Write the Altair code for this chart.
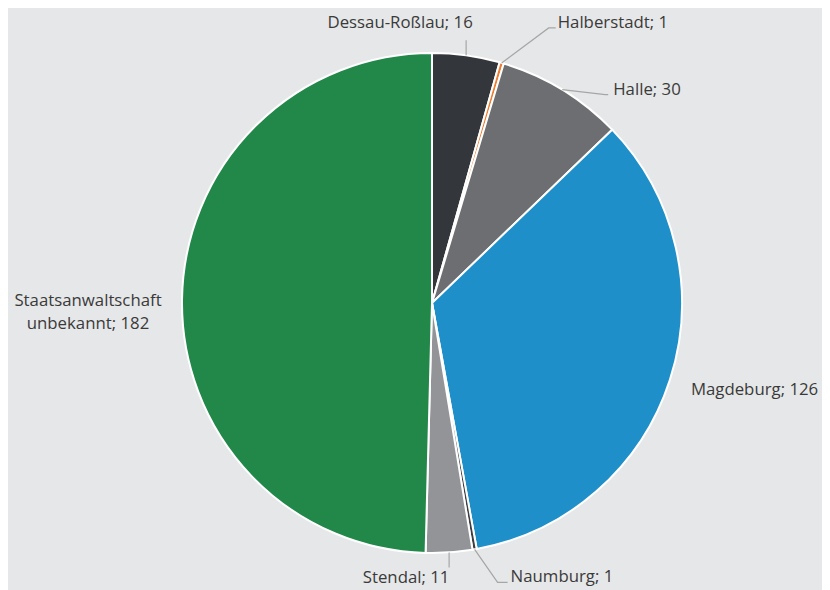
import math
import altair as alt
import pandas as pd

# ---- data ----
categories = ["Dessau-Roßlau", "Halberstadt", "Halle", "Magdeburg", "Naumburg", "Stendal",
              "Staatsanwaltschaft unbekannt"]
values = [16, 1, 30, 126, 1, 11, 182]
colors = ["#33363b", "#ed7d31", "#6d6e72", "#1e8fc8", "#3c3d40", "#939498", "#21884a"]

# ---- layout (style) ----
W, H = 814, 582
CX, CY, R = 424, 295, 250
BG = "#e6e7e8"
TEXT = "#3a3a3a"
LEADER = "#a6a6a6"
FONT = "Open Sans"
FSIZE = 16.8
# per label: leader offsets from slice edge (list of points), text offset, align
label_layout = {
    "Dessau-Roßlau": dict(leader=[(0, -15)], text=(-66, -32), align="center"),
    "Halberstadt": dict(leader=[(47, -35), (54, -35)], text=(56, -40), align="left"),
    "Halle": dict(leader=[(43, 5), (46, 5)], text=(51, 0), align="left"),
    "Magdeburg": dict(leader=[], text=(21, 10), align="left"),
    "Naumburg": dict(leader=[(23, 33), (33, 33)], text=(36, 28), align="left"),
    "Stendal": dict(leader=[(0, 15)], text=(-43, 26), align="center"),
    "Staatsanwaltschaft unbekannt": dict(leader=[], text=(-94, 1), align="center"),
}
label_texts = {
    "Staatsanwaltschaft unbekannt": "Staatsanwaltschaft\nunbekannt; 182",
}

pie_df = pd.DataFrame({"cat": categories, "val": values, "idx": list(range(len(values)))})

total = sum(values)
cum = 0
line_rows, text_rows = [], []
for c, v in zip(categories, values):
    mid = (cum + v / 2) / total * 2 * math.pi
    cum += v
    ex = CX + R * math.sin(mid)
    ey = CY - R * math.cos(mid)
    lay = label_layout[c]
    if lay["leader"]:
        pts = [(ex, ey)] + [(ex + dx, ey + dy) for dx, dy in lay["leader"]]
        for k, (px, py) in enumerate(pts):
            line_rows.append({"cat": c, "k": k, "px": px, "py": py})
    tx, ty = lay["text"]
    text_rows.append({"cat": c, "label": label_texts.get(c, f"{c}; {v}"),
                      "px": ex + tx, "py": ey + ty, "align": lay["align"]})

line_df = pd.DataFrame(line_rows)
text_df = pd.DataFrame(text_rows)

pie = alt.Chart(pie_df).mark_arc(outerRadius=R, stroke="white", strokeWidth=2).encode(
    theta=alt.Theta("val:Q", stack=True),
    order=alt.Order("idx:Q"),
    color=alt.Color("cat:N", scale=alt.Scale(domain=categories, range=colors), legend=None),
    x=alt.value(CX),
    y=alt.value(CY),
)

leaders = alt.Chart(line_df).mark_line(color=LEADER, strokeWidth=1.2).encode(
    x=alt.X("px:Q", scale=None, axis=None),
    y=alt.Y("py:Q", scale=None, axis=None),
    detail="cat:N",
    order="k:Q",
)

layers = [pie, leaders]
for al in ["left", "center", "right"]:
    sub = text_df[text_df["align"] == al]
    if len(sub) == 0:
        continue
    layers.append(
        alt.Chart(sub).mark_text(align=al, baseline="middle", font=FONT, fontSize=FSIZE,
                                 color=TEXT, lineBreak="\n", lineHeight=23).encode(
            x=alt.X("px:Q", scale=None, axis=None),
            y=alt.Y("py:Q", scale=None, axis=None),
            text="label:N",
        )
    )

chart = alt.layer(*layers).properties(
    width=W, height=H, background=BG, padding=0,
    autosize=alt.AutoSizeParams(type="none"),
).configure_view(stroke=None, fill=BG)

chart.save("out.html", embed_options={"renderer": "svg", "actions": False})
